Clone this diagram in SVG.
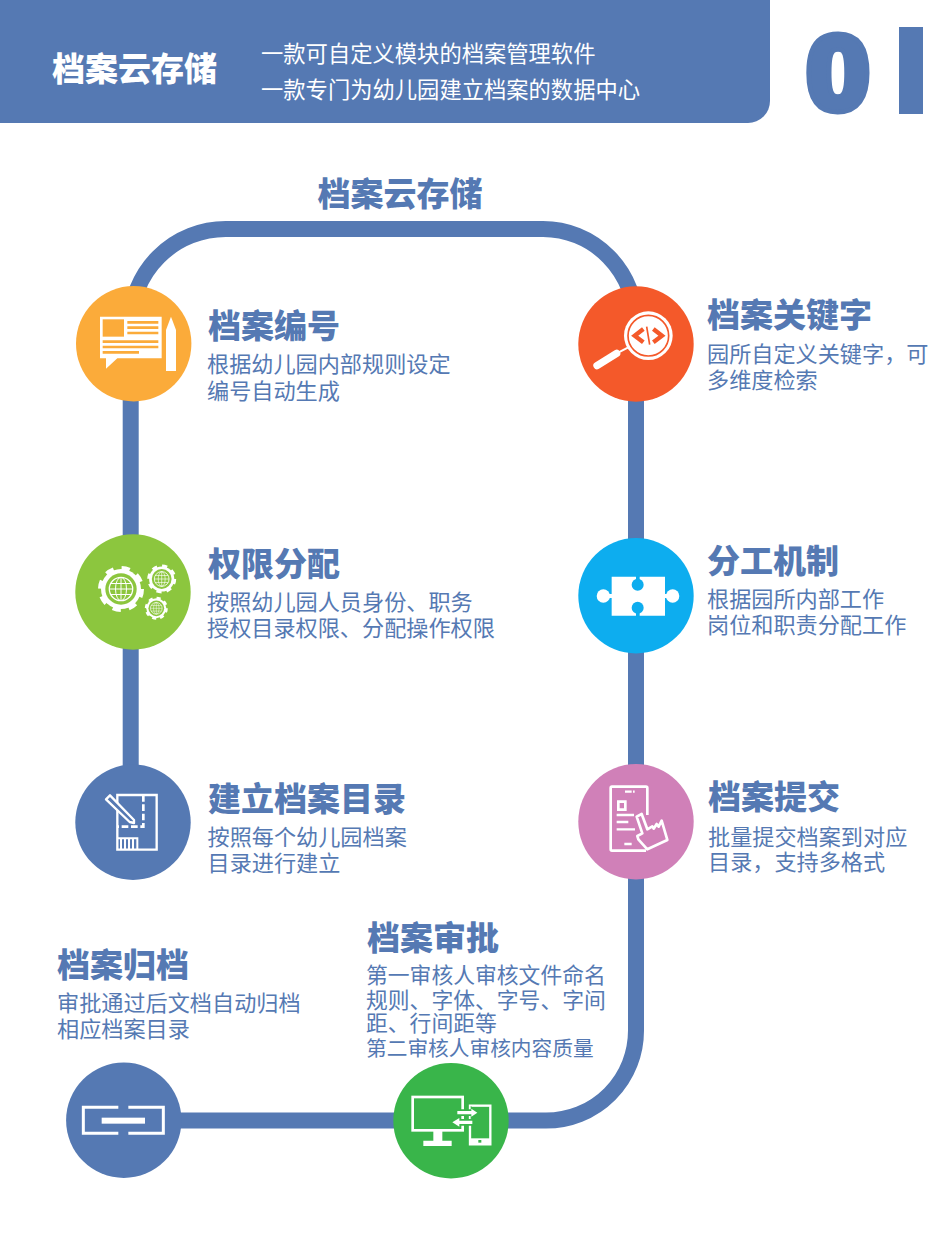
<svg xmlns="http://www.w3.org/2000/svg" xmlns:xlink="http://www.w3.org/1999/xlink" width="945" height="1260" viewBox="0 0 945 1260">
<style>
text{font-family:"Noto Sans CJK SC","Noto Sans",sans-serif}
.h{font-size:33px;font-weight:900;fill:#5579b3}
.b{font-size:22.15px;font-weight:400;fill:#5579b3}
.b2{font-size:21.8px;font-weight:400;fill:#5579b3}
.w{fill:#fff}
.hw{font-size:22.3px;font-weight:400;fill:#fff}
.ln{fill:none;stroke:#fff}
</style>
<defs>
<g id="gear">
<circle r="20" fill="#fff"/>
<circle r="20.5" fill="none" stroke="#fff" stroke-width="5" stroke-dasharray="8.1 8"/>
<circle r="15.7" fill="#8cc63e"/>
<g fill="none" stroke="#fff" stroke-width="1">
<circle r="11.7" stroke-width="1.3"/><ellipse rx="5.5" ry="11.7"/><path d="M0-11.7V11.7M-11.7 0H11.7M-10.3-5.5H10.3M-10.3 5.5H10.3"/>
</g>
</g>
<clipPath id="stem"><rect x="899" y="27" width="24" height="87"/></clipPath>
</defs>
<rect width="945" height="1260" fill="#fff"/>
<path d="M0 0H770V101A22 22 0 0 1 748 123H0Z" fill="#5579b3"/>
<text x="52" y="80.500" style="font-size:33px;font-weight:900;fill:#fff">档案云存储</text>
<text x="261" y="61.500" class="hw">一款可自定义模块的档案管理软件</text>
<text x="261" y="97.500" class="hw">一款专门为幼儿园建立档案的数据中心</text>
<text transform="translate(838 108.500) scale(1.08 1)" text-anchor="middle" style="font-family:'Liberation Sans',sans-serif;font-size:104px;font-weight:700;fill:#5579b3;stroke:#5579b3;stroke-width:9;paint-order:stroke">0</text>
<g clip-path="url(#stem)"><text transform="translate(848 114) scale(1.75 1.05)" style="font-family:'Liberation Sans',sans-serif;font-size:120px;font-weight:700;fill:#5579b3">1</text></g>
<text x="400" y="205.500" text-anchor="middle" class="h">档案云存储</text>

<g id="connectors">
<path d="M130.700 823V324A95 95 0 0 1 225.700 229H543A93 95 0 0 1 636 324V1030A90 90 0 0 1 546 1120.600H124" fill="none" stroke="#5579b3" stroke-width="16"/>
</g>

<g id="node-bianhao">
<circle cx="133.700" cy="343.700" r="57.700" fill="#fbab3a"/>
<g transform="translate(60 270) scale(.33333)">
<path class="w" d="M120 140H305V265H172L138 296V265H120Z"/>
<rect x="128" y="148" width="64" height="52" fill="#fbab3a"/>
<path d="M202 157H295M202 173H295M202 189H295M128 215H295M128 231H295M128 247H237" stroke="#fbab3a" stroke-width="8" fill="none"/>
<path class="w" d="M333 140L348 180V303H318V180Z"/>
</g>
<text x="208" y="337.500" class="h">档案编号</text>
<text x="207" y="371.500" class="b">根据幼儿园内部规则设定</text>
<text x="207" y="398.500" class="b">编号自动生成</text>
</g>

<g id="node-quanxian">
<circle cx="133" cy="592" r="57.700" fill="#8cc63e"/>
<use xlink:href="#gear" href="#gear" transform="translate(121 589)"/>
<use xlink:href="#gear" href="#gear" transform="translate(161.700 579) scale(.63)"/>
<use xlink:href="#gear" href="#gear" transform="translate(156.300 608.300) scale(.5)"/>
<text x="208" y="575.500" class="h">权限分配</text>
<text x="207" y="609.500" class="b">按照幼儿园人员身份、职务</text>
<text x="207" y="635.500" class="b">授权目录权限、分配操作权限</text>
</g>

<g id="node-mulu">
<circle cx="133" cy="822.300" r="57.700" fill="#5579b3"/>
<g transform="translate(60 750) scale(.33333)">
<path class="ln" stroke-width="7" d="M172 135H290V299H172Z"/>
<path class="ln" stroke-width="8" stroke-dasharray="20 8" d="M250 135V230H172"/>
<path class="ln" stroke-width="6" d="M172 265H232V299M183 268V298M195 268V298M207 268V298M219 268V298"/>
<path d="M150 136L222 210L222 219L209 216L138 148Z" fill="#5579b3" stroke="#fff" stroke-width="7" stroke-linejoin="round"/>
</g>
<text x="208" y="810.500" class="h">建立档案目录</text>
<text x="207.500" y="844.500" class="b">按照每个幼儿园档案</text>
<text x="207.500" y="870.500" class="b">目录进行建立</text>
</g>

<g id="node-guanjianzi">
<circle cx="636" cy="344" r="57.700" fill="#f4592a"/>
<g transform="translate(560 270) scale(.33333)">
<path class="ln" stroke-width="6" d="M170 250L205 232"/>
<path class="ln" stroke-width="22" stroke-linecap="round" d="M111 287L170 250"/>
<circle cx="265" cy="197" r="73" fill="#fff"/>
<circle cx="265" cy="197" r="61" fill="#fff" stroke="#f4592a" stroke-width="5"/>
<path d="M250 177L224 197L250 217M280 177L306 197L280 217" fill="none" stroke="#f4592a" stroke-width="13"/>
<path d="M260 170L269 224" fill="none" stroke="#f4592a" stroke-width="5"/>
</g>
<text x="707" y="326.500" class="h">档案关键字</text>
<text x="707" y="361.500" class="b">园所自定义关键字，可</text>
<text x="707" y="387.500" class="b">多维度检索</text>
</g>

<g id="node-fengong">
<circle cx="636" cy="595.800" r="57.700" fill="#0dadef"/>
<g transform="translate(560 520) scale(.33333)">
<path class="w" d="M155 170H315V287H155Z"/>
<circle class="w" cx="130" cy="228" r="20"/><circle class="w" cx="338" cy="228" r="20"/>
<rect class="w" x="145" y="222" width="180" height="12"/>
<path d="M228 168H239V195H228ZM228 262H239V289H228Z" fill="#0dadef"/>
<circle cx="233" cy="194" r="18" fill="#0dadef"/><circle cx="233" cy="263" r="18" fill="#0dadef"/>
</g>
<text x="707" y="572.500" class="h">分工机制</text>
<text x="707" y="606.500" class="b">根据园所内部工作</text>
<text x="707" y="632.500" class="b">岗位和职责分配工作</text>
</g>

<g id="node-tijiao">
<circle cx="636" cy="821.700" r="57.700" fill="#d080b8"/>
<g transform="translate(560 750) scale(.33333)">
<path class="ln" stroke-width="8" d="M262 195V114Q262 110 258 110H156Q152 110 152 114V298Q152 302 156 302H258"/>
<path class="ln" stroke-width="8" d="M175 155H196V179H175Z"/>
<path class="ln" stroke-width="7" d="M195 125H215M219 125H224M170 195H222M170 216H205M170 238H225M193 282H215"/>
<path d="M230 200L245 192L262 238L277 229L281 236L290 222L296 230L305 212L322 270L262 298L235 268L232 258L247 250Z" fill="#d080b8" stroke="#fff" stroke-width="8" stroke-linejoin="round"/>
</g>
<text x="708" y="808.500" class="h">档案提交</text>
<text x="708" y="844.500" class="b">批量提交档案到对应</text>
<text x="708" y="869.500" class="b">目录，支持多格式</text>
</g>

<g id="node-shenpi">
<circle cx="451" cy="1120.700" r="57.700" fill="#39b54a"/>
<g transform="translate(380 1050) scale(.33333)">
<rect x="98" y="141" width="150" height="100" fill="none" stroke="#fff" stroke-width="8"/>
<path class="w" d="M160 243H187V272H215V288H130V272H160Z"/>
<rect x="270" y="167" width="61" height="116" fill="#39b54a" stroke="#fff" stroke-width="7"/>
<rect class="w" x="270" y="265" width="61" height="18"/>
<rect x="295" y="270" width="9" height="8" fill="#39b54a"/>
<path d="M228 178H272V168L300 188L272 208V198H228ZM282 207V227H240V238L210 217L240 196V207Z" fill="#39b54a"/>
<path class="w" d="M232 183H274V176L292 188L274 200V193H232ZM277 212V222H238V230L217 217L238 204V212Z"/>
</g>
<text x="367" y="949.500" class="h">档案审批</text>
<text x="366" y="982.500" class="b2">第一审核人审核文件命名</text>
<text x="366" y="1008" class="b2">规则、字体、字号、字间</text>
<text x="366" y="1031" class="b2">距、行间距等</text>
<text x="366" y="1056" style="font-size:20.700px;font-weight:400;fill:#5579b3">第二审核人审核内容质量</text>
</g>

<g id="node-guidang">
<circle cx="123.800" cy="1120.300" r="57.700" fill="#5579b3"/>
<g transform="translate(50 1050) scale(.33333)">
<path class="ln" stroke-width="9" d="M205 172H100V250H205M235 172H340V250H235"/>
<rect class="w" x="155" y="203" width="130" height="18"/>
</g>
<text x="57" y="976.500" class="h">档案归档</text>
<text x="57" y="1010.500" class="b">审批通过后文档自动归档</text>
<text x="57" y="1036.500" class="b">相应档案目录</text>
</g>
</svg>
